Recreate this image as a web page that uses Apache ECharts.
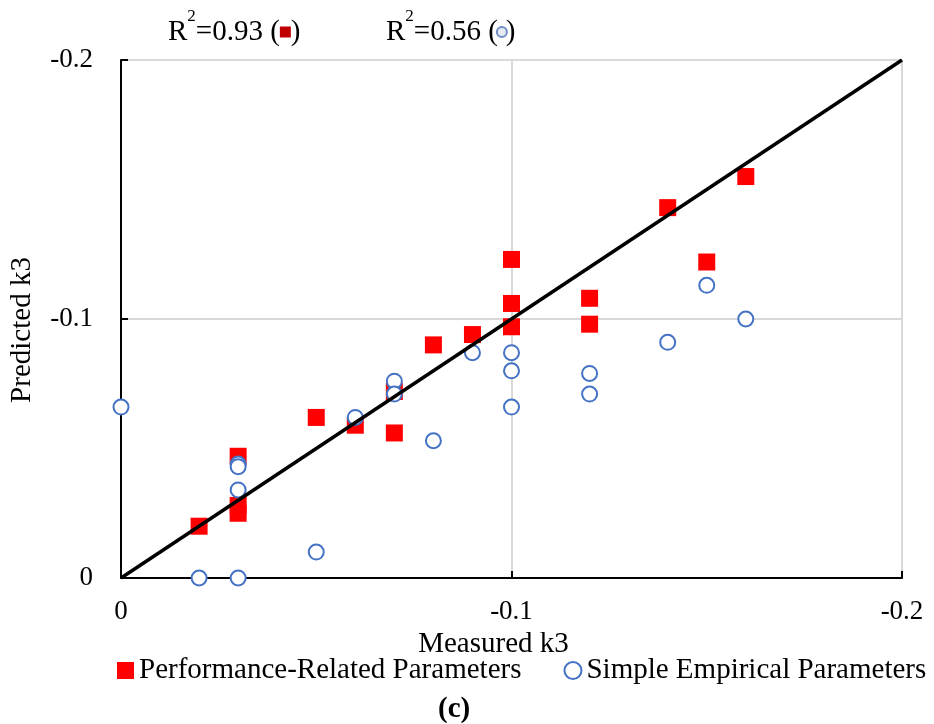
<!DOCTYPE html>
<html>
<head>
<meta charset="utf-8">
<script src="https://cdn.jsdelivr.net/npm/echarts@6/dist/echarts.min.js"></script>
<style>
  html, body { margin: 0; padding: 0; background: #fff; }
  #chart { width: 934px; height: 724px; }
</style>
</head>
<body>
<div id="chart"></div>
<script>
  // measured vs predicted k3
  const perfMeasured = [-0.02, -0.03, -0.03, -0.03, -0.05, -0.06, -0.07, -0.07, -0.08, -0.09, -0.10, -0.10, -0.10, -0.12, -0.12, -0.14, -0.15, -0.16];
  const perfPredicted = [-0.020, -0.047, -0.028, -0.025, -0.062, -0.059, -0.072, -0.056, -0.090, -0.094, -0.123, -0.106, -0.097, -0.108, -0.098, -0.143, -0.122, -0.155];
  const simpleMeasured = [0, -0.02, -0.03, -0.03, -0.03, -0.03, -0.05, -0.06, -0.07, -0.07, -0.08, -0.09, -0.10, -0.10, -0.10, -0.12, -0.12, -0.14, -0.15, -0.16];
  const simplePredicted = [-0.066, 0, 0, -0.044, -0.043, -0.034, -0.010, -0.062, -0.076, -0.071, -0.053, -0.087, -0.087, -0.080, -0.066, -0.079, -0.071, -0.091, -0.113, -0.100];
  const unityLine = [0, -0.2];
  const seriesNames = ['Performance-Related Parameters', 'Simple Empirical Parameters'];
  const r2Labels = ['0.93', '0.56'];

  const font = 'Liberation Serif';
  const pairs = (xs, ys) => xs.map((x, i) => [x, ys[i]]);
  const tickFmt = v => (v === 0 ? '0' : v.toFixed(1));

  const chart = echarts.init(document.getElementById('chart'));

  const axisCommon = {
    type: 'value',
    min: -0.2,
    max: 0,
    interval: 0.1,
    inverse: true,
    axisLine: { onZero: false, lineStyle: { color: '#000', width: 2 } },
    axisTick: { show: true, inside: true, length: 7, lineStyle: { color: '#000', width: 2 } },
    splitLine: { show: true, lineStyle: { color: '#d9d9d9', width: 2 } },
    axisLabel: { formatter: tickFmt, fontFamily: font, fontSize: 27, color: '#000' },
    nameTextStyle: { fontFamily: font, fontSize: 29, color: '#000' }
  };

  const richBase = {
    r: { fontFamily: font, fontSize: 29, lineHeight: 48, fill: '#000' },
    s: { fontFamily: font, fontSize: 17, lineHeight: 14, verticalAlign: 'top', fill: '#000' }
  };

  chart.setOption({
    animation: false,
    grid: { left: 120, right: 32, top: 60, bottom: 146 },
    xAxis: Object.assign({}, axisCommon, {
      name: 'Measured k3',
      nameLocation: 'middle',
      nameGap: 48,
      nameTextStyle: Object.assign({}, axisCommon.nameTextStyle, { padding: [0, 36, 0, 0] }),
      axisLabel: Object.assign({}, axisCommon.axisLabel, { margin: 20 })
    }),
    yAxis: Object.assign({}, axisCommon, {
      name: 'Predicted k3',
      nameLocation: 'middle',
      nameGap: 84,
      nameRotate: 90,
      nameTextStyle: Object.assign({}, axisCommon.nameTextStyle, { padding: [0, 22, 0, 0] }),
      axisLabel: Object.assign({}, axisCommon.axisLabel, { margin: 28 })
    }),
    legend: {
      left: 112,
      top: 651,
      itemWidth: 17,
      itemHeight: 17,
      itemGap: 42,
      textStyle: { fontFamily: font, fontSize: 29, color: '#000' },
      data: [
        { name: seriesNames[0], icon: 'rect' },
        { name: seriesNames[1], icon: 'circle' }
      ]
    },
    graphic: [
      {
        type: 'text', left: 168, top: 8,
        style: {
          text: '{r|R}{s|2}{r|=' + r2Labels[0] + ' (}{sq| }{r|)}',
          rich: Object.assign({}, richBase, {
            sq: { width: 11, height: 11, backgroundColor: '#c00000', verticalAlign: 'middle' }
          })
        }
      },
      {
        type: 'text', left: 386, top: 8,
        style: {
          text: '{r|R}{s|2}{r|=' + r2Labels[1] + ' (}{ci| }{r|)}',
          rich: Object.assign({}, richBase, {
            ci: { width: 8, height: 8, borderRadius: 5, backgroundColor: '#e4e9f2', borderColor: '#6f8fc0', borderWidth: 2, verticalAlign: 'middle' }
          })
        }
      },
      {
        type: 'text', left: 438, top: 695,
        style: { text: '(c)', fontFamily: font, fontSize: 29, fontWeight: 'bold', fill: '#000' }
      }
    ],
    series: [
      {
        name: seriesNames[0],
        type: 'scatter',
        symbol: 'rect',
        symbolSize: 17,
        clip: false,
        itemStyle: { color: '#ff0000', opacity: 1 },
        data: pairs(perfMeasured, perfPredicted),
        z: 2
      },
      {
        name: seriesNames[1],
        type: 'scatter',
        symbol: 'circle',
        symbolSize: 15,
        clip: false,
        itemStyle: { color: '#fff', borderColor: '#4472c4', borderWidth: 2, opacity: 1 },
        data: pairs(simpleMeasured, simplePredicted),
        z: 3
      },
      {
        name: 'unity',
        type: 'line',
        symbol: 'none',
        silent: true,
        lineStyle: { color: '#000', width: 3.5 },
        data: pairs(unityLine, unityLine),
        z: 4
      }
    ]
  });
</script>
</body>
</html>
